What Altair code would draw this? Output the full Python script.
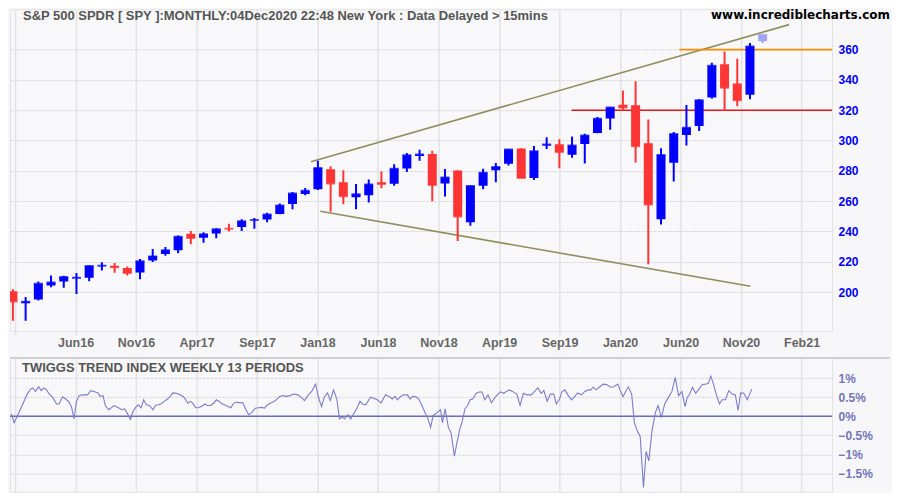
import json
import altair as alt
import pandas as pd

# ---------------- data ----------------
months = list(pd.date_range("2016-01-01", periods=60, freq="MS").strftime("%b %Y"))

opens = [200.49, 192.53, 195.01, 204.35, 206.92, 209.12, 209.48, 217.19, 217.37, 215.82, 212.93, 220.73,
         225.04, 227.53, 238.39, 235.80, 238.68, 241.97, 242.88, 247.46, 247.92, 251.49, 258.04, 264.76,
         267.84, 281.07, 272.51, 262.55, 263.87, 272.38, 271.41, 281.56, 289.84, 291.18, 271.60, 280.28,
         245.98, 270.15, 280.45, 284.65, 294.72, 275.31, 296.68, 297.60, 290.57, 297.74, 304.92, 314.59,
         323.54, 323.35, 298.21, 247.98, 285.31, 303.62, 309.57, 328.32, 350.35, 337.69, 330.20, 365.57]
highs = [201.90, 196.68, 206.87, 210.92, 210.69, 212.52, 217.54, 219.60, 219.22, 216.81, 221.82, 228.34,
         229.71, 237.31, 240.32, 239.53, 242.08, 245.01, 248.00, 248.91, 252.32, 258.43, 266.05, 268.60,
         286.63, 283.06, 280.42, 271.30, 274.25, 279.48, 284.37, 291.74, 293.94, 293.21, 281.24, 280.40,
         270.47, 281.31, 285.18, 294.45, 294.95, 296.31, 302.23, 300.87, 302.63, 304.55, 315.48, 322.13,
         332.95, 339.08, 313.84, 294.88, 305.59, 323.41, 327.23, 351.30, 358.75, 354.02, 364.38, 369.85]
lows = [181.02, 181.09, 194.45, 203.09, 202.78, 198.65, 207.06, 214.25, 212.69, 210.93, 208.38, 219.88,
        223.88, 225.59, 231.61, 232.51, 235.43, 239.96, 240.32, 241.83, 246.00, 251.29, 254.65, 263.84,
        267.40, 252.92, 258.00, 254.67, 259.05, 268.49, 270.12, 279.16, 286.71, 259.85, 263.07, 233.76,
        243.67, 267.83, 272.42, 283.56, 275.20, 273.95, 294.33, 281.72, 288.67, 284.82, 304.74, 307.13,
        320.36, 285.54, 218.26, 244.59, 272.99, 296.74, 306.34, 327.73, 319.80, 322.60, 327.24, 364.40]
closes = [193.72, 193.56, 205.52, 206.33, 209.84, 209.48, 217.12, 217.38, 216.30, 212.55, 220.38, 223.53,
          227.53, 236.47, 235.74, 238.08, 241.44, 241.80, 246.77, 247.49, 251.23, 257.15, 265.01, 266.86,
          281.90, 271.65, 263.15, 264.51, 270.94, 271.28, 281.33, 290.31, 290.72, 270.63, 275.65, 249.92,
          269.93, 278.68, 282.48, 294.02, 275.27, 293.00, 297.43, 292.45, 296.77, 303.33, 314.31, 321.86,
          321.73, 296.26, 257.75, 290.48, 304.32, 308.36, 326.52, 349.31, 334.89, 326.54, 362.06, 369.85]
in_progress = "Dec 2020"

# x axis ticks (month-index units) and their labels
tick_pos = [0.17, 4.93, 9.69, 14.45, 19.21, 23.97, 28.73, 33.49, 38.26, 43.02, 47.78, 52.54, 57.30, 62.06]
tick_labels = ["Feb16", "Jun16", "Nov16", "Apr17", "Sep17", "Jan18", "Jun18", "Nov18",
               "Apr19", "Sep19", "Jan20", "Jun20", "Nov20", "Feb21"]
price_ticks = [200, 220, 240, 260, 280, 300, 320, 340, 360]
tti_ticks = [-1.5, -1.0, -0.5, 0.0, 0.5, 1.0]

# trend lines (month index, price)
upper_trend_m = [23.46, 61.08]
upper_trend_p = [286.0, 376.5]
lower_trend_m = [24.19, 58.04]
lower_trend_p = [253.3, 203.8]
# horizontal support / resistance
levels = [360, 320]
level_start = [52.45, 43.96]
level_end = [64.46, 64.46]
level_kind = ["resistance", "support"]

# Twiggs Trend Index (weekly, 13 periods) – month index and value in %
tti_m = [-0.13, 0.10, 0.42, 0.78, 1.12, 1.38, 1.56, 1.77, 2.03, 2.23, 2.44, 2.65, 2.86, 3.12, 3.43, 3.64,
         3.90, 4.16, 4.42, 4.62, 4.81, 4.99, 5.20, 5.46, 5.87, 6.13, 6.44, 6.70, 6.86, 7.09, 7.27, 7.53,
         7.74, 7.95, 8.16, 8.37, 8.57, 8.78, 8.99, 9.25, 9.46, 9.66, 9.87, 10.08, 10.29, 10.50, 10.76,
         11.02, 11.22, 11.43, 11.64, 11.90, 12.16, 12.37, 12.57, 12.89, 13.15, 13.41, 13.61, 13.77, 13.98,
         14.13, 14.39, 14.60, 14.86, 15.12, 15.28, 15.54, 15.80, 16.00, 16.21, 16.42, 16.63, 16.89, 17.15,
         17.35, 17.56, 17.82, 18.08, 18.34, 18.55, 18.81, 19.07, 19.33, 19.59, 19.80,
         20.03, 20.34, 20.65, 20.97, 21.23, 21.54, 21.80, 22.11, 22.42, 22.68, 22.94, 23.20, 23.51, 23.82,
         24.03, 24.29, 24.50, 24.76, 24.97, 25.23, 25.49, 25.70, 25.90, 26.11, 26.37, 26.58, 26.84, 27.10,
         27.31, 27.51, 27.77, 28.14, 28.40, 28.66, 28.97, 29.33, 29.64, 29.85, 30.06, 30.27, 30.48, 30.74,
         31.05, 31.26, 31.46, 31.72, 31.93, 32.19, 32.45, 32.66, 32.87, 33.07, 33.33, 33.65, 33.80, 34.01,
         34.27, 34.48, 34.74, 34.94, 35.15, 35.36, 35.57, 35.78, 35.98, 36.19, 36.45, 36.76, 36.92, 37.13,
         37.39, 37.65, 37.91, 38.17, 38.37, 38.63, 38.84, 39.05, 39.31,
         39.65, 39.91, 40.17, 40.43, 40.79, 41.05, 41.31, 41.57, 41.78, 42.04, 42.30, 42.56, 42.76, 43.02,
         43.18, 43.44, 43.70, 43.96, 44.17, 44.43, 44.74, 45.00, 45.26, 45.47, 45.67, 45.88, 46.14, 46.45,
         46.71, 47.03, 47.28, 47.60, 47.80, 48.01, 48.22, 48.43, 48.69, 48.90, 49.10, 49.36, 49.62, 49.83,
         50.04, 50.30, 50.56, 50.77, 51.03, 51.29, 51.60, 51.86, 52.12, 52.38, 52.64, 52.90, 53.05, 53.26,
         53.47, 53.73, 53.94, 54.25, 54.51, 54.72, 54.92, 55.13, 55.34, 55.60, 55.81, 56.07, 56.33, 56.59,
         56.85, 57.06, 57.27, 57.52, 57.78, 58.15]
tti_v = [0.06, -0.17, 0.06, 0.32, 0.58, 0.71, 0.74, 0.65, 0.77, 0.67, 0.74, 0.69, 0.58, 0.50, 0.32, 0.32,
         0.51, 0.45, 0.37, 0.23, -0.07, 0.37, 0.54, 0.56, 0.56, 0.67, 0.64, 0.61, 0.52, 0.54, 0.28, 0.17,
         0.22, 0.28, 0.25, 0.21, 0.17, 0.19, 0.08, -0.08, 0.13, 0.23, 0.30, 0.22, 0.43, 0.30, 0.28,
         0.17, 0.29, 0.30, 0.32, 0.39, 0.45, 0.51, 0.61, 0.60, 0.56, 0.51, 0.43, 0.34, 0.39,
         0.35, 0.22, 0.22, 0.26, 0.32, 0.28, 0.28, 0.34, 0.43, 0.39, 0.33, 0.30, 0.26, 0.22,
         0.33, 0.37, 0.35, 0.36, 0.17, 0.04, 0.10, 0.21, 0.22, 0.23, 0.21,
         0.30, 0.35, 0.41, 0.51, 0.54, 0.52, 0.54, 0.58, 0.56, 0.50, 0.41, 0.54, 0.65, 0.84,
         0.51, 0.25, 0.50, 0.61, 0.41, 0.69, 0.45, -0.07, -0.03, -0.07, 0.04, -0.07, 0.08, 0.23,
         0.39, 0.32, 0.30, 0.50, 0.47, 0.43, 0.35, 0.56, 0.51, 0.45, 0.52, 0.43, 0.51, 0.56,
         0.56, 0.45, 0.52, 0.51, 0.45, 0.28, 0.08, -0.07, -0.29, 0.02, 0.08, 0.17, -0.17, 0.19,
         -0.30, -0.44, -1.05, -0.70, -0.36, -0.13, 0.19, 0.28, 0.43, 0.45, 0.60, 0.64, 0.63, 0.43,
         0.56, 0.35, 0.48, 0.58, 0.64, 0.60, 0.65, 0.69, 0.65,
         0.58, 0.28, 0.60, 0.56, 0.56, 0.65, 0.74, 0.60, 0.67, 0.39, 0.58, 0.58, 0.32, 0.45,
         0.63, 0.69, 0.54, 0.43, 0.50, 0.61, 0.56, 0.65, 0.69, 0.69, 0.76, 0.69, 0.76, 0.84,
         0.83, 0.76, 0.77, 0.84, 0.67, 0.51, 0.65, 0.77, 0.58, -0.16, -0.36, -0.53, -1.87, -0.92,
         -1.17, -0.36, 0.10, 0.28, -0.04, 0.32, 0.50, 0.65, 1.02, 0.54, 0.65, 0.25, 0.48, 0.58,
         0.76, 0.60, 0.69, 0.83, 0.84, 0.86, 1.05, 0.84, 0.58, 0.32, 0.43, 0.43, 0.67, 0.58,
         0.56, 0.15, 0.61, 0.60, 0.43, 0.71]

TITLE = "S&P 500 SPDR [ SPY ]:MONTHLY:04Dec2020 22:48 New York : Data Delayed > 15mins"
SITE = "www.incrediblecharts.com"
SUB_TITLE = "TWIGGS TREND INDEX WEEKLY 13 PERIODS"

# ---------------- frames ----------------
candles = pd.DataFrame({"m": range(len(months)), "month": months, "open": opens,
                        "high": highs, "low": lows, "close": closes})
candles["state"] = ["partial" if mo == in_progress else ("up" if c >= o else "down")
                    for mo, o, c in zip(months, opens, closes)]
trend = pd.DataFrame({"m": upper_trend_m + lower_trend_m, "p": upper_trend_p + lower_trend_p,
                      "line": ["upper"] * 2 + ["lower"] * 2})
lv = pd.DataFrame({"level": levels, "m1": level_start, "m2": level_end, "kind": level_kind})
tti = pd.DataFrame({"m": tti_m, "v": tti_v})

# ---------------- scales / axes ----------------
W = 823
X_DOMAIN = [-0.23, 64.46]
step = (tick_pos[-1] - tick_pos[0]) / (len(tick_pos) - 1)
label_expr = (f"datum.value < {tick_pos[0] + 0.5} ? '' : "
              f"{json.dumps(tick_labels)}[round((datum.value - {tick_pos[0]}) / {step:.4f})]")

GRID_X = dict(grid=True, gridColor="#e4e4e4", gridWidth=1.6)
GRID_Y = dict(grid=True, gridColor="#dadada", gridWidth=1, gridDash=[3, 1])

xs = alt.Scale(domain=X_DOMAIN, nice=False, zero=False, padding=0)
x_axis_top = alt.Axis(values=tick_pos, labelExpr=label_expr, title=None,
                      domain=False, ticks=True, tickSize=4, tickColor="#e2e2e2", tickWidth=1.6,
                      labelPadding=2, labelFontSize=12.5, labelColor="#666666",
                      labelFont="Liberation Sans", labelFontWeight="bold", labelFlush=False, **GRID_X)
x_axis_bot = alt.Axis(values=tick_pos, labels=False, title=None, domain=False,
                      ticks=False, **GRID_X)

ys = alt.Scale(domain=[174.33, 386.64], nice=False, zero=False, padding=0)
y_axis = alt.Axis(orient="right", values=price_ticks, title=None, domain=False, ticks=False,
                  labelPadding=6, labelFontSize=12, labelColor="#0000ff",
                  labelFont="Liberation Sans", labelFontWeight="bold", **GRID_Y)

color = alt.Color("state:N", legend=None,
                  scale=alt.Scale(domain=["up", "down", "partial"],
                                  range=["#0000ff", "#ff3535", "#a4a4f4"]))

X = lambda f: alt.X(f, type="quantitative", scale=xs, axis=x_axis_top)
Y = lambda f: alt.Y(f, type="quantitative", scale=ys, axis=y_axis)

wicks = alt.Chart(candles).mark_rule(strokeWidth=2, clip=True).encode(
    x=X("m"), y=Y("low"), y2="high", color=color)
bodies = alt.Chart(candles).mark_bar(size=9, clip=True).encode(
    x=X("m"), y=Y("open"), y2="close", color=color)
closes_tick = alt.Chart(candles).mark_tick(orient="horizontal", size=9, thickness=2, clip=True).encode(
    x=X("m"), y=Y("close"), color=color)
trend_lines = alt.Chart(trend).mark_line(color="#8e8e5e", strokeWidth=1.6, clip=True).encode(
    x=X("m"), y=Y("p"), detail="line:N")
level_lines = alt.Chart(lv).mark_rule(strokeWidth=1.6, clip=True).encode(
    x=X("m1"), x2="m2", y=Y("level"),
    stroke=alt.Stroke("kind:N", legend=None,
                      scale=alt.Scale(domain=["resistance", "support"], range=["#ff8a00", "#e01818"])))
title_txt = alt.Chart(pd.DataFrame({"t": [TITLE]})).mark_text(
    align="left", baseline="top", font="Liberation Sans", fontWeight="bold", fontSize=13,
    color="#555555").encode(x=alt.value(13), y=alt.value(1), text="t:N")
site_txt = alt.Chart(pd.DataFrame({"t": [SITE]})).mark_text(
    align="right", baseline="top", font="DejaVu Sans", fontWeight="bold", fontSize=12,
    color="#000000").encode(x=alt.value(881), y=alt.value(1), text="t:N")

upper = alt.layer(trend_lines, level_lines, wicks, bodies, closes_tick, title_txt, site_txt).resolve_scale(
    color="independent", stroke="independent").properties(width=W, height=322)

# lower panel
ys2 = alt.Scale(domain=[-1.98, 1.529], nice=False, zero=False, padding=0)
y_axis2 = alt.Axis(orient="right", values=tti_ticks, title=None, domain=False, ticks=False,
                   labelPadding=6, labelFontSize=12, labelColor="#7474b8",
                   labelFont="Liberation Sans", labelFontWeight="bold",
                   labelExpr="format(datum.value, '.1~f') + '%'", **GRID_Y)
X2 = lambda f: alt.X(f, type="quantitative", scale=xs, axis=x_axis_bot)
Y2 = lambda f: alt.Y(f, type="quantitative", scale=ys2, axis=y_axis2)

tti_line = alt.Chart(tti).mark_line(color="#7c7cca", strokeWidth=1.1, clip=True).encode(
    x=X2("m"), y=Y2("v"))
zero_line = alt.Chart(pd.DataFrame({"z": [0.0]})).mark_rule(color="#6c6cbe", strokeWidth=1.6).encode(
    y=Y2("z"))
separator = alt.Chart(pd.DataFrame({"s": [0]})).mark_rule(color="#cfcfcf", strokeWidth=2).encode(
    x=alt.value(0), x2=alt.value(881), y=alt.value(0))
sub_txt = alt.Chart(pd.DataFrame({"t": [SUB_TITLE]})).mark_text(
    align="left", baseline="top", font="Liberation Sans", fontWeight="bold", fontSize=13,
    color="#555555").encode(x=alt.value(12), y=alt.value(4), text="t:N")

lower = alt.layer(zero_line, tti_line, separator, sub_txt).properties(width=W, height=134)

chart = alt.vconcat(upper, lower, spacing=6, padding=0).configure(background="#f7f7fa").configure_view(
    stroke="#e2e2e2", fill="#f8f8fa")

chart.save("out.html", embed_options={"renderer": "svg", "actions": False})
